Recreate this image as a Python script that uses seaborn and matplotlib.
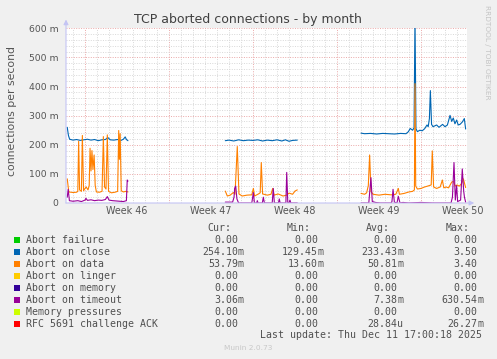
import numpy as np
import pandas as pd
import matplotlib
matplotlib.use("Agg")
import matplotlib.pyplot as plt
from matplotlib.patches import Rectangle
import seaborn as sns

# ---------------- data (x in days since Mon Nov 10 2025, values in milli-units) -------------
CLOSE_1 = [(-1.48, 260), (-1.38, 232), (-1.28, 219), (-1.0, 216), (-0.7, 218), (-0.4, 215),
           (-0.1, 217), (0.2, 219), (0.5, 216), (0.8, 218), (1.1, 214), (1.4, 217), (1.7, 218),
           (1.9, 225), (2.1, 217), (2.4, 216), (2.7, 218), (3.0, 215), (3.2, 219), (3.35, 227),
           (3.45, 218), (3.58, 214)]
CLOSE_2 = [(11.69, 214), (12.0, 216), (12.4, 213), (12.8, 217), (13.2, 214), (13.6, 216),
           (14.0, 215), (14.4, 217), (14.8, 213), (15.2, 216), (15.6, 214), (16.0, 217),
           (16.4, 213), (16.7, 217), (17.0, 212), (17.3, 215), (17.69, 216)]
CLOSE_3 = [(23.0, 240), (23.3, 238), (23.8, 239), (24.3, 237), (24.8, 239), (25.3, 238),
           (25.8, 237), (26.3, 239), (26.75, 238), (26.95, 245), (27.1, 256), (27.3, 250),
           (27.42, 258), (27.5, 640), (27.58, 255), (27.7, 245), (27.9, 250), (28.1, 248),
           (28.3, 255), (28.5, 268), (28.6, 262), (28.7, 290), (28.78, 386), (28.88, 270),
           (29.0, 262), (29.3, 268), (29.5, 260), (29.8, 270), (30.0, 262), (30.2, 268),
           (30.42, 301), (30.56, 280), (30.69, 292), (30.83, 272), (30.97, 285), (31.1, 268),
           (31.25, 270), (31.44, 278), (31.61, 290), (31.72, 254)]

DATA_1 = [(-1.48, 83), (-1.35, 38), (-1.0, 36), (-0.7, 37), (-0.6, 40), (-0.53, 212),
          (-0.45, 45), (-0.3, 40), (-0.22, 232), (-0.12, 42), (0.0, 50), (0.1, 55), (0.25, 45),
          (0.35, 60), (0.42, 188), (0.5, 110), (0.58, 180), (0.66, 115), (0.76, 165), (0.85, 60),
          (0.95, 38), (1.2, 37), (1.42, 40), (1.53, 228), (1.63, 55), (1.75, 48), (1.86, 234),
          (1.96, 40), (2.2, 35), (2.5, 37), (2.72, 40), (2.81, 249), (2.87, 150), (2.93, 238),
          (3.02, 42), (3.2, 38), (3.4, 40), (3.58, 38)]
DATA_2 = [(11.69, 41), (11.86, 24), (12.1, 27), (12.36, 36), (12.5, 30), (12.69, 194),
          (12.83, 31), (13.1, 24), (13.5, 27), (13.9, 28), (14.03, 50), (14.13, 24), (14.45, 31),
          (14.6, 35), (14.69, 139), (14.8, 31), (15.2, 27), (15.5, 30), (15.64, 50), (15.75, 27),
          (16.1, 31), (16.5, 24), (16.8, 27), (17.0, 34), (17.3, 30), (17.5, 41), (17.69, 45)]
DATA_3 = [(23.0, 33), (23.3, 30), (23.47, 35), (23.61, 60), (23.72, 165), (23.83, 40),
          (24.0, 30), (24.5, 27), (25.0, 30), (25.5, 28), (25.9, 30), (26.11, 50), (26.2, 30),
          (26.6, 33), (27.0, 38), (27.3, 40), (27.45, 45), (27.5, 410), (27.56, 58), (27.7, 48),
          (28.0, 50), (28.3, 55), (28.55, 58), (28.85, 62), (28.94, 179), (29.05, 55),
          (29.3, 50), (29.6, 55), (29.78, 79), (29.9, 52), (30.1, 55), (30.3, 52), (30.56, 72),
          (30.7, 74), (30.85, 58), (31.0, 62), (31.2, 58), (31.4, 68), (31.53, 83), (31.72, 53)]

TIMEOUT_1 = [(-1.48, 20), (-1.4, 47), (-1.3, 8), (-1.0, 6), (-0.6, 8), (-0.3, 5), (0.0, 10),
             (0.08, 16), (0.2, 9), (0.5, 11), (0.8, 8), (1.1, 10), (1.4, 9), (1.7, 12),
             (1.86, 22), (2.0, 10), (2.3, 8), (2.6, 7), (2.9, 6), (3.2, 5), (3.45, 8),
             (3.52, 79), (3.58, 75)]
TIMEOUT_2 = [(11.69, 3), (12.3, 3), (12.42, 20), (12.47, 50), (12.56, 58), (12.66, 14),
             (12.8, 0), (13.9, 0), (14.03, 36), (14.12, 0), (14.3, 0), (14.36, 8), (14.42, 0),
             (14.78, 0), (14.86, 20), (14.95, 0), (15.6, 0), (15.69, 50), (15.78, 0),
             (16.12, 0), (16.19, 14), (16.26, 0), (16.74, 0), (16.81, 105), (16.9, 0),
             (17.0, 0), (17.08, 10), (17.15, 0), (17.69, 0)]
TIMEOUT_3 = [(23.0, 0), (23.65, 0), (23.73, 40), (23.83, 87), (23.94, 5), (24.2, 2),
             (24.6, 0), (25.5, 0), (25.58, 5), (25.67, 47), (25.78, 3), (26.0, 0),
             (26.11, 23), (26.25, 0), (26.5, 2), (27.0, 0), (28.0, 2), (29.0, 0), (30.5, 0),
             (30.62, 20), (30.75, 139), (30.86, 10), (30.97, 60), (31.05, 5), (31.3, 10),
             (31.44, 117), (31.56, 40), (31.62, 20), (31.72, 3)]

RFC_1 = [(-1.48, 0), (3.58, 0)]
RFC_2 = [(11.69, 0), (17.69, 0)]
RFC_3 = [(23.0, 0), (31.72, 0)]

SERIES = {
    "Abort on close": [CLOSE_1, CLOSE_2, CLOSE_3],
    "Abort on data": [DATA_1, DATA_2, DATA_3],
    "Abort on timeout": [TIMEOUT_1, TIMEOUT_2, TIMEOUT_3],
    "RFC 5691 challenge ACK": [RFC_1, RFC_2, RFC_3],
}

WEEK_LABELS = ["Week 46", "Week 47", "Week 48", "Week 49", "Week 50"]
Y_TICKS = [0, 100, 200, 300, 400, 500, 600]
Y_TICK_LABELS = ["0", "100 m", "200 m", "300 m", "400 m", "500 m", "600 m"]

LEGEND_NAMES = ["Abort failure", "Abort on close", "Abort on data", "Abort on linger",
                "Abort on memory", "Abort on timeout", "Memory pressures",
                "RFC 5691 challenge ACK"]
LEGEND_COLORS = ["#00CC00", "#0066B3", "#FF8000", "#FFCC00", "#330099", "#990099",
                 "#CCFF00", "#FF0000"]
CUR = ["0.00", "254.10m", "53.79m", "0.00", "0.00", "3.06m", "0.00", "0.00"]
MIN = ["0.00", "129.45m", "13.60m", "0.00", "0.00", "0.00", "0.00", "0.00"]
AVG = ["0.00", "233.43m", "50.81m", "0.00", "0.00", "7.38m", "0.00", "28.84u"]
MAX = ["0.00", "3.50", "3.40", "0.00", "0.00", "630.54m", "0.00", "26.27m"]

# ---------------- build long table ----------------
rows = []
for name, segs in SERIES.items():
    for si, seg in enumerate(segs):
        for d, v in seg:
            rows.append({"day": d, "value": v, "series": name, "seg": si})
df = pd.DataFrame(rows)
palette = {"Abort on close": "#0066B3", "Abort on data": "#FF8000",
           "Abort on timeout": "#990099", "RFC 5691 challenge ACK": "#FF0000"}

sns.set_theme(style="white")
plt.rcParams["font.family"] = ["DejaVu Sans"]

W, H = 497, 359
fig = plt.figure(figsize=(W / 100, H / 100), dpi=100, facecolor="#F0F0F0")
L, R, T, B = 66, 467, 28.3, 203
ax = fig.add_axes([L / W, 1 - B / H, (R - L) / W, (B - T) / H])
ax.set_facecolor("white")

def px2day(px):
    return (px - 85) / 12.0

ax.set_xlim(px2day(L), px2day(R))
ax.set_ylim(0, 600)

# grid
ax.set_xticks([0, 7, 14, 21, 28])
ax.set_xticks(np.arange(-1, 32, 1), minor=True)
ax.set_yticks(Y_TICKS)
ax.set_yticks(np.arange(0, 601, 20), minor=True)
ax.grid(which="minor", color="#d8d8d8", linestyle=(0, (1, 1.5)), linewidth=0.7)
ax.grid(which="major", color="#eaa8a8", linestyle=(0, (1, 1.5)), linewidth=0.7)
ax.set_axisbelow(True)
ax.set_xticklabels([])
ax.set_yticklabels(Y_TICK_LABELS)
ax.tick_params(axis="both", which="both", length=0)
ax.tick_params(axis="y", labelsize=6.7, labelcolor="#555555", pad=5.5)
for s in ax.spines.values():
    s.set_visible(False)

sns.lineplot(data=df, x="day", y="value", hue="series", units="seg", estimator=None,
             sort=False, palette=palette, hue_order=list(palette.keys()), linewidth=0.8,
             legend=False, ax=ax)
ax.set_xlabel("")
ax.set_ylabel("")

# week labels centred in each week
for k, lab in enumerate(WEEK_LABELS):
    ax.text(3.5 + 7 * k, -7.5 / (B - T) * 600, lab, ha="center", va="center",
            fontsize=6.9, color="#555555", clip_on=False)

# axes with arrows
axis_col = "#c4c4f4"
ax.annotate("", xy=(1.018, 0), xytext=(0, 0), xycoords="axes fraction",
            arrowprops=dict(arrowstyle="-|>", color=axis_col, lw=0.8, mutation_scale=7,
                            shrinkA=0, shrinkB=0), annotation_clip=False)
ax.annotate("", xy=(0, 1.05), xytext=(0, 0), xycoords="axes fraction",
            arrowprops=dict(arrowstyle="-|>", color=axis_col, lw=0.8, mutation_scale=7,
                            shrinkA=0, shrinkB=0), annotation_clip=False)

# title and labels
fig.text(248 / W, 1 - 19.3 / H, "TCP aborted connections - by month", ha="center",
         va="center", fontsize=9, color="#404040")
fig.text(12 / W, 1 - 111.5 / H, "connections per second", rotation=90, ha="center",
         va="center", fontsize=7.8, color="#555555")
fig.text(487 / W, 1 - 5 / H, "RRDTOOL / TOBI OETIKER", rotation=270, ha="center",
         va="top", fontsize=5.3, color="#c4c4c4")

# legend table
mono = "DejaVu Sans Mono"
lfs = 7.1
tcol = "#505050"
def fx(x):
    return x / W
def fy(y):
    return 1 - y / H

for hx, htxt in zip([231, 311, 390, 470], ["Cur:", "Min:", "Avg:", "Max:"]):
    fig.text(fx(hx), fy(228.3), htxt, ha="right", va="center", family=mono,
             fontsize=lfs, color=tcol)

num_right = [238, 318, 397, 477]
for i, name in enumerate(LEGEND_NAMES):
    y = 239.7 + 12 * i
    fig.patches.append(Rectangle((fx(14), fy(y + 2.8)), 5.6 / W, 5.6 / H,
                                 transform=fig.transFigure, facecolor=LEGEND_COLORS[i],
                                 edgecolor="none"))
    fig.text(fx(26), fy(y), name, ha="left", va="center", family=mono, fontsize=lfs,
             color=tcol)
    for col, vals in enumerate([CUR, MIN, AVG, MAX]):
        v = vals[i]
        if v[-1].isalpha():
            num, unit = v[:-1], v[-1]
        else:
            num, unit = v, ""
        fig.text(fx(num_right[col]), fy(y), num, ha="right", va="center", family=mono,
                 fontsize=lfs, color=tcol)
        if unit:
            fig.text(fx(num_right[col]), fy(y), unit, ha="left", va="center", family=mono,
                     fontsize=lfs, color=tcol)

fig.text(fx(482.3), fy(335.3), "Last update: Thu Dec 11 17:00:18 2025", ha="right",
         va="center", family=mono, fontsize=lfs, color=tcol)
fig.text(fx(248), fy(348), "Munin 2.0.73", ha="center", va="center", fontsize=5.3,
         color="#c8c8c8")

fig.savefig("out.png", dpi=100, facecolor=fig.get_facecolor())
